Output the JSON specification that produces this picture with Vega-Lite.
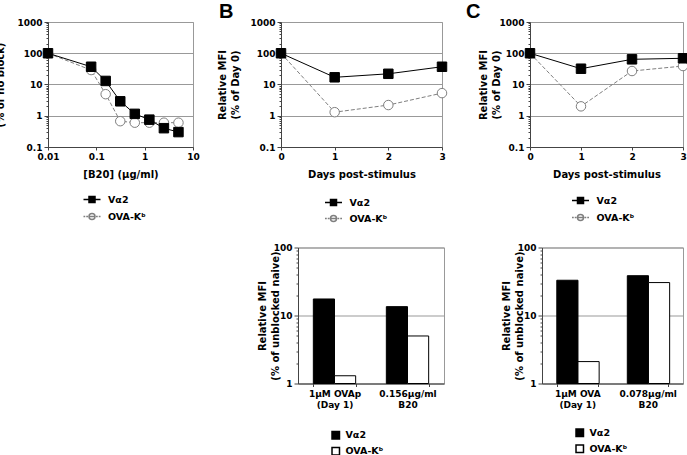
{
  "$schema": "https://vega.github.io/schema/vega-lite/v6.json",
  "background": "white",
  "padding": {"left": -19, "top": 1, "right": 0, "bottom": 0},
  "config": {
    "font": "DejaVu Sans",
    "view": {"stroke": "#999999", "strokeWidth": 1},
    "axis": {
      "labelFont": "DejaVu Sans", "labelFontSize": 9, "labelFontWeight": "bold", "labelColor": "black",
      "titleFont": "DejaVu Sans", "titleFontSize": 10, "titleFontWeight": "bold", "titleColor": "black",
      "domainColor": "#444444", "tickColor": "#444444", "gridColor": "#999999", "gridWidth": 1,
      "labelFlush": false, "labelOverlap": false, "labelPadding": 2
    },
    "legend": {"labelFont": "DejaVu Sans", "labelFontSize": 9.5, "labelFontWeight": "bold", "labelColor": "black"},
    "title": {"font": "Liberation Sans", "fontSize": 20, "fontWeight": "bold", "color": "black"}
  },
  "datasets": {
    "dose": [
      {"series": "OVA-Kᵇ", "dose": 0.01, "value": 100},
      {"series": "OVA-Kᵇ", "dose": 0.078, "value": 29},
      {"series": "OVA-Kᵇ", "dose": 0.156, "value": 4.9},
      {"series": "OVA-Kᵇ", "dose": 0.3125, "value": 0.67},
      {"series": "OVA-Kᵇ", "dose": 0.625, "value": 0.6},
      {"series": "OVA-Kᵇ", "dose": 1.25, "value": 0.6},
      {"series": "OVA-Kᵇ", "dose": 2.5, "value": 0.6},
      {"series": "OVA-Kᵇ", "dose": 5, "value": 0.6},
      {"series": "Vα2", "dose": 0.01, "value": 100},
      {"series": "Vα2", "dose": 0.078, "value": 37},
      {"series": "Vα2", "dose": 0.156, "value": 13},
      {"series": "Vα2", "dose": 0.3125, "value": 2.9},
      {"series": "Vα2", "dose": 0.625, "value": 1.15},
      {"series": "Vα2", "dose": 1.25, "value": 0.75},
      {"series": "Vα2", "dose": 2.5, "value": 0.4},
      {"series": "Vα2", "dose": 5, "value": 0.3}
    ],
    "timeB": [
      {"series": "OVA-Kᵇ", "day": 0, "value": 100},
      {"series": "OVA-Kᵇ", "day": 1, "value": 1.3},
      {"series": "OVA-Kᵇ", "day": 2, "value": 2.2},
      {"series": "OVA-Kᵇ", "day": 3, "value": 5.3},
      {"series": "Vα2", "day": 0, "value": 100},
      {"series": "Vα2", "day": 1, "value": 17},
      {"series": "Vα2", "day": 2, "value": 22},
      {"series": "Vα2", "day": 3, "value": 37}
    ],
    "timeC": [
      {"series": "OVA-Kᵇ", "day": 0, "value": 100},
      {"series": "OVA-Kᵇ", "day": 1, "value": 2},
      {"series": "OVA-Kᵇ", "day": 2, "value": 27},
      {"series": "OVA-Kᵇ", "day": 3, "value": 39},
      {"series": "Vα2", "day": 0, "value": 100},
      {"series": "Vα2", "day": 1, "value": 32},
      {"series": "Vα2", "day": 2, "value": 64},
      {"series": "Vα2", "day": 3, "value": 69}
    ],
    "barB": [
      {"group": "1µM OVAp|(Day 1)", "series": "Vα2", "value": 17.5},
      {"group": "1µM OVAp|(Day 1)", "series": "OVA-Kᵇ", "value": 1.3},
      {"group": "0.156µg/ml|B20", "series": "Vα2", "value": 13.5},
      {"group": "0.156µg/ml|B20", "series": "OVA-Kᵇ", "value": 5}
    ],
    "barC": [
      {"group": "1µM OVA|(Day 1)", "series": "Vα2", "value": 33},
      {"group": "1µM OVA|(Day 1)", "series": "OVA-Kᵇ", "value": 2.1},
      {"group": "0.078µg/ml|B20", "series": "Vα2", "value": 38.5},
      {"group": "0.078µg/ml|B20", "series": "OVA-Kᵇ", "value": 30.5}
    ]
  },
  "spacing": 17.5,
  "resolve": {
    "scale": {"fill": "independent", "stroke": "independent", "shape": "independent"},
    "legend": {"fill": "independent", "stroke": "independent", "shape": "independent"}
  },
  "vconcat": [
    {
      "spacing": 88,
      "bounds": "flush",
      "resolve": {
        "scale": {"fill": "independent", "stroke": "independent", "shape": "independent"},
        "legend": {"fill": "independent", "stroke": "independent", "shape": "independent"}
      },
      "hconcat": [
        {
          "width": 145, "height": 125,
          "data": {"name": "dose"},
          "encoding": {
            "x": {"field": "dose", "type": "quantitative",
              "scale": {"type": "log", "domain": [0.01, 10], "nice": false},
              "axis": {"values": [0.01, 0.1, 1, 10], "format": "~g", "grid": false, "tickSize": 3, "title": "[B20] (µg/ml)", "titleY": 22, "titleBaseline": "top"}},
            "y": {"field": "value", "type": "quantitative",
              "scale": {"type": "log", "domain": [0.1, 1000], "nice": false},
              "axis": {
                "values": [0.1, 0.2, 0.3, 0.4, 0.5, 0.6, 0.7, 0.8, 0.9, 1, 2, 3, 4, 5, 6, 7, 8, 9, 10, 20, 30, 40, 50, 60, 70, 80, 90, 100, 200, 300, 400, 500, 600, 700, 800, 900, 1000],
                "labelExpr": "abs(log(datum.value)/LN10 - round(log(datum.value)/LN10)) < 1e-6 ? datum.label : ''",
                "format": "~g", "grid": true,
                "gridOpacity": {"condition": {"test": "abs(log(datum.value)/LN10 - round(log(datum.value)/LN10)) < 1e-6", "value": 1}, "value": 0},
                "tickSize": {"condition": {"test": "abs(log(datum.value)/LN10 - round(log(datum.value)/LN10)) < 1e-6", "value": 4}, "value": 2},
                "title": ["Relative MFI", "(% of no block)"], "titleLineHeight": 13, "titleX": -56, "titleBaseline": "bottom"
              }}
          },
          "layer": [
            {"transform": [{"filter": "datum.series === 'OVA-Kᵇ'"}], "mark": {"type": "line", "stroke": "#7f7f7f", "strokeWidth": 1, "strokeDash": [4, 2]}},
            {"transform": [{"filter": "datum.series === 'Vα2'"}], "mark": {"type": "line", "stroke": "black", "strokeWidth": 1}},
            {"transform": [{"filter": "datum.series === 'OVA-Kᵇ'"}], "mark": {"type": "point", "shape": "circle", "size": 90, "filled": true, "fill": "white", "stroke": "#7f7f7f", "strokeWidth": 1, "opacity": 1}},
            {"transform": [{"filter": "datum.series === 'Vα2'"}], "mark": {"type": "point", "shape": "square", "size": 90, "filled": true, "fill": "black", "stroke": "black", "strokeWidth": 1, "opacity": 1}},
            {
              "transform": [{"filter": "false"}],
              "mark": {"type": "point", "filled": true, "size": 100, "strokeWidth": 1, "opacity": 1},
              "encoding": {
                "shape": {"field": "series", "type": "nominal", "scale": {"domain": ["Vα2", "OVA-Kᵇ"], "range": ["M-1.7,0H1.7M-0.6,-0.6H0.6V0.6H-0.6Z", "M-1.7,0H-1.35M-1.15,0H-0.8M0.8,0H1.15M1.35,0H1.7M-0.6,0H0.6M0.6,0A0.6,0.6 0 1,0 -0.6,0A0.6,0.6 0 1,0 0.6,0Z"]},
                  "legend": {"orient": "none", "legendX": 38, "legendY": 171.5, "title": null, "padding": 0, "symbolSize": 100, "rowPadding": 5, "labelOffset": 10}},
                "fill": {"field": "series", "type": "nominal", "scale": {"domain": ["Vα2", "OVA-Kᵇ"], "range": ["black", "white"]},
                  "legend": {"orient": "none", "legendX": 38, "legendY": 171.5, "title": null, "padding": 0, "symbolSize": 100, "rowPadding": 5, "labelOffset": 10}},
                "stroke": {"field": "series", "type": "nominal", "scale": {"domain": ["Vα2", "OVA-Kᵇ"], "range": ["black", "#7f7f7f"]},
                  "legend": {"orient": "none", "legendX": 38, "legendY": 171.5, "title": null, "padding": 0, "symbolSize": 100, "rowPadding": 5, "labelOffset": 10}}
              }
            }
          ]
        },
        {
          "width": 161, "height": 125,
          "title": {"text": "B", "anchor": "start", "frame": "group", "dx": -62, "offset": -4},
          "data": {"name": "timeB"},
          "encoding": {
            "x": {"field": "day", "type": "quantitative",
              "scale": {"domain": [0, 3], "nice": false},
              "axis": {"values": [0, 1, 2, 3], "format": "d", "grid": false, "tickSize": 3, "title": "Days post-stimulus", "titleY": 22, "titleBaseline": "top"}},
            "y": {"field": "value", "type": "quantitative",
              "scale": {"type": "log", "domain": [0.1, 1000], "nice": false},
              "axis": {
                "values": [0.1, 0.2, 0.3, 0.4, 0.5, 0.6, 0.7, 0.8, 0.9, 1, 2, 3, 4, 5, 6, 7, 8, 9, 10, 20, 30, 40, 50, 60, 70, 80, 90, 100, 200, 300, 400, 500, 600, 700, 800, 900, 1000],
                "labelExpr": "abs(log(datum.value)/LN10 - round(log(datum.value)/LN10)) < 1e-6 ? datum.label : ''",
                "format": "~g", "grid": true,
                "gridOpacity": {"condition": {"test": "abs(log(datum.value)/LN10 - round(log(datum.value)/LN10)) < 1e-6", "value": 1}, "value": 0},
                "tickSize": {"condition": {"test": "abs(log(datum.value)/LN10 - round(log(datum.value)/LN10)) < 1e-6", "value": 4}, "value": 2},
                "title": ["Relative MFI", "(% of Day 0)"], "titleLineHeight": 13, "titleX": -54, "titleBaseline": "bottom"
              }}
          },
          "layer": [
            {"transform": [{"filter": "datum.series === 'OVA-Kᵇ'"}], "mark": {"type": "line", "stroke": "#7f7f7f", "strokeWidth": 1, "strokeDash": [4, 2]}},
            {"transform": [{"filter": "datum.series === 'Vα2'"}], "mark": {"type": "line", "stroke": "black", "strokeWidth": 1}},
            {"transform": [{"filter": "datum.series === 'OVA-Kᵇ'"}], "mark": {"type": "point", "shape": "circle", "size": 90, "filled": true, "fill": "white", "stroke": "#7f7f7f", "strokeWidth": 1, "opacity": 1}},
            {"transform": [{"filter": "datum.series === 'Vα2'"}], "mark": {"type": "point", "shape": "square", "size": 90, "filled": true, "fill": "black", "stroke": "black", "strokeWidth": 1, "opacity": 1}},
            {
              "transform": [{"filter": "false"}],
              "mark": {"type": "point", "filled": true, "size": 100, "strokeWidth": 1, "opacity": 1},
              "encoding": {
                "shape": {"field": "series", "type": "nominal", "scale": {"domain": ["Vα2", "OVA-Kᵇ"], "range": ["M-1.7,0H1.7M-0.6,-0.6H0.6V0.6H-0.6Z", "M-1.7,0H-1.35M-1.15,0H-0.8M0.8,0H1.15M1.35,0H1.7M-0.6,0H0.6M0.6,0A0.6,0.6 0 1,0 -0.6,0A0.6,0.6 0 1,0 0.6,0Z"]},
                  "legend": {"orient": "none", "legendX": 46.5, "legendY": 174.5, "title": null, "padding": 0, "symbolSize": 100, "rowPadding": 4, "labelOffset": 10}},
                "fill": {"field": "series", "type": "nominal", "scale": {"domain": ["Vα2", "OVA-Kᵇ"], "range": ["black", "white"]},
                  "legend": {"orient": "none", "legendX": 46.5, "legendY": 174.5, "title": null, "padding": 0, "symbolSize": 100, "rowPadding": 4, "labelOffset": 10}},
                "stroke": {"field": "series", "type": "nominal", "scale": {"domain": ["Vα2", "OVA-Kᵇ"], "range": ["black", "#7f7f7f"]},
                  "legend": {"orient": "none", "legendX": 46.5, "legendY": 174.5, "title": null, "padding": 0, "symbolSize": 100, "rowPadding": 4, "labelOffset": 10}}
              }
            }
          ]
        },
        {
          "width": 153, "height": 125,
          "title": {"text": "C", "anchor": "start", "frame": "group", "dx": -64, "offset": -4},
          "data": {"name": "timeC"},
          "encoding": {
            "x": {"field": "day", "type": "quantitative",
              "scale": {"domain": [0, 3], "nice": false},
              "axis": {"values": [0, 1, 2, 3], "format": "d", "grid": false, "tickSize": 3, "title": "Days post-stimulus", "titleY": 22, "titleBaseline": "top"}},
            "y": {"field": "value", "type": "quantitative",
              "scale": {"type": "log", "domain": [0.1, 1000], "nice": false},
              "axis": {
                "values": [0.1, 0.2, 0.3, 0.4, 0.5, 0.6, 0.7, 0.8, 0.9, 1, 2, 3, 4, 5, 6, 7, 8, 9, 10, 20, 30, 40, 50, 60, 70, 80, 90, 100, 200, 300, 400, 500, 600, 700, 800, 900, 1000],
                "labelExpr": "abs(log(datum.value)/LN10 - round(log(datum.value)/LN10)) < 1e-6 ? datum.label : ''",
                "format": "~g", "grid": true,
                "gridOpacity": {"condition": {"test": "abs(log(datum.value)/LN10 - round(log(datum.value)/LN10)) < 1e-6", "value": 1}, "value": 0},
                "tickSize": {"condition": {"test": "abs(log(datum.value)/LN10 - round(log(datum.value)/LN10)) < 1e-6", "value": 4}, "value": 2},
                "title": ["Relative MFI", "(% of Day 0)"], "titleLineHeight": 13, "titleX": -42, "titleBaseline": "bottom"
              }}
          },
          "layer": [
            {"transform": [{"filter": "datum.series === 'OVA-Kᵇ'"}], "mark": {"type": "line", "stroke": "#7f7f7f", "strokeWidth": 1, "strokeDash": [4, 2]}},
            {"transform": [{"filter": "datum.series === 'Vα2'"}], "mark": {"type": "line", "stroke": "black", "strokeWidth": 1}},
            {"transform": [{"filter": "datum.series === 'OVA-Kᵇ'"}], "mark": {"type": "point", "shape": "circle", "size": 90, "filled": true, "fill": "white", "stroke": "#7f7f7f", "strokeWidth": 1, "opacity": 1}},
            {"transform": [{"filter": "datum.series === 'Vα2'"}], "mark": {"type": "point", "shape": "square", "size": 90, "filled": true, "fill": "black", "stroke": "black", "strokeWidth": 1, "opacity": 1}},
            {
              "transform": [{"filter": "false"}],
              "mark": {"type": "point", "filled": true, "size": 100, "strokeWidth": 1, "opacity": 1},
              "encoding": {
                "shape": {"field": "series", "type": "nominal", "scale": {"domain": ["Vα2", "OVA-Kᵇ"], "range": ["M-1.7,0H1.7M-0.6,-0.6H0.6V0.6H-0.6Z", "M-1.7,0H-1.35M-1.15,0H-0.8M0.8,0H1.15M1.35,0H1.7M-0.6,0H0.6M0.6,0A0.6,0.6 0 1,0 -0.6,0A0.6,0.6 0 1,0 0.6,0Z"]},
                  "legend": {"orient": "none", "legendX": 44.5, "legendY": 172.5, "title": null, "padding": 0, "symbolSize": 100, "rowPadding": 5, "labelOffset": 10}},
                "fill": {"field": "series", "type": "nominal", "scale": {"domain": ["Vα2", "OVA-Kᵇ"], "range": ["black", "white"]},
                  "legend": {"orient": "none", "legendX": 44.5, "legendY": 172.5, "title": null, "padding": 0, "symbolSize": 100, "rowPadding": 5, "labelOffset": 10}},
                "stroke": {"field": "series", "type": "nominal", "scale": {"domain": ["Vα2", "OVA-Kᵇ"], "range": ["black", "#7f7f7f"]},
                  "legend": {"orient": "none", "legendX": 44.5, "legendY": 172.5, "title": null, "padding": 0, "symbolSize": 100, "rowPadding": 5, "labelOffset": 10}}
              }
            }
          ]
        }
      ]
    },
    {
      "spacing": 98,
      "bounds": "flush",
      "resolve": {
        "scale": {"fill": "independent", "stroke": "independent", "shape": "independent"},
        "legend": {"fill": "independent", "stroke": "independent", "shape": "independent"}
      },
      "hconcat": [
        {
          "width": 152, "height": 136,
          "view": {"stroke": null},
          "data": {"values": [{}]},
          "mark": {"type": "point", "opacity": 0},
          "encoding": {}
        },
        {
          "width": 146, "height": 136,
          "data": {"name": "barB"},
          "mark": {"type": "bar", "stroke": "black", "strokeWidth": 1},
          "encoding": {
            "x": {"field": "group", "type": "nominal", "sort": null,
              "scale": {"paddingInner": 0.42, "paddingOuter": 0.21},
              "axis": {"title": null, "labelExpr": "split(datum.label, '|')", "labelAngle": 0, "labelLineHeight": 11, "labelFontSize": 9, "tickBand": "extent", "tickSize": 3, "labelPadding": 3}},
            "xOffset": {"field": "series", "type": "nominal", "sort": ["Vα2", "OVA-Kᵇ"], "scale": {"paddingInner": 0, "paddingOuter": 0}},
            "y": {"field": "value", "type": "quantitative",
              "scale": {"type": "log", "domain": [1, 100], "nice": false},
              "axis": {
                "values": [1, 2, 3, 4, 5, 6, 7, 8, 9, 10, 20, 30, 40, 50, 60, 70, 80, 90, 100],
                "labelExpr": "abs(log(datum.value)/LN10 - round(log(datum.value)/LN10)) < 1e-6 ? datum.label : ''",
                "format": "~g", "grid": true,
                "gridOpacity": {"condition": {"test": "abs(log(datum.value)/LN10 - round(log(datum.value)/LN10)) < 1e-6", "value": 1}, "value": 0},
                "tickSize": {"condition": {"test": "abs(log(datum.value)/LN10 - round(log(datum.value)/LN10)) < 1e-6", "value": 4}, "value": 2},
                "title": ["Relative MFI", "(% of unblocked naive)"], "titleLineHeight": 13, "titleX": -30.5, "titleBaseline": "bottom"
              }},
            "y2": {"datum": 1},
            "fill": {"field": "series", "type": "nominal", "scale": {"domain": ["Vα2", "OVA-Kᵇ"], "range": ["black", "white"]},
              "legend": {"orient": "none", "legendX": 33, "legendY": 183, "title": null, "padding": 0, "symbolType": "square", "symbolSize": 56, "rowPadding": 2, "labelOffset": 5,
                "encode": {"symbols": {"update": {"stroke": {"value": "black"}, "strokeWidth": {"value": 1}, "opacity": {"value": 1}}}}}}
          }
        },
        {
          "width": 141, "height": 136,
          "data": {"name": "barC"},
          "mark": {"type": "bar", "stroke": "black", "strokeWidth": 1},
          "encoding": {
            "x": {"field": "group", "type": "nominal", "sort": null,
              "scale": {"paddingInner": 0.42, "paddingOuter": 0.21},
              "axis": {"title": null, "labelExpr": "split(datum.label, '|')", "labelAngle": 0, "labelLineHeight": 11, "labelFontSize": 9, "tickBand": "extent", "tickSize": 3, "labelPadding": 3}},
            "xOffset": {"field": "series", "type": "nominal", "sort": ["Vα2", "OVA-Kᵇ"], "scale": {"paddingInner": 0, "paddingOuter": 0}},
            "y": {"field": "value", "type": "quantitative",
              "scale": {"type": "log", "domain": [1, 100], "nice": false},
              "axis": {
                "values": [1, 2, 3, 4, 5, 6, 7, 8, 9, 10, 20, 30, 40, 50, 60, 70, 80, 90, 100],
                "labelExpr": "abs(log(datum.value)/LN10 - round(log(datum.value)/LN10)) < 1e-6 ? datum.label : ''",
                "format": "~g", "grid": true,
                "gridOpacity": {"condition": {"test": "abs(log(datum.value)/LN10 - round(log(datum.value)/LN10)) < 1e-6", "value": 1}, "value": 0},
                "tickSize": {"condition": {"test": "abs(log(datum.value)/LN10 - round(log(datum.value)/LN10)) < 1e-6", "value": 4}, "value": 2},
                "title": ["Relative MFI", "(% of unblocked naive)"], "titleLineHeight": 13, "titleX": -30.5, "titleBaseline": "bottom"
              }},
            "y2": {"datum": 1},
            "fill": {"field": "series", "type": "nominal", "scale": {"domain": ["Vα2", "OVA-Kᵇ"], "range": ["black", "white"]},
              "legend": {"orient": "none", "legendX": 33, "legendY": 180.5, "title": null, "padding": 0, "symbolType": "square", "symbolSize": 56, "rowPadding": 2, "labelOffset": 5,
                "encode": {"symbols": {"update": {"stroke": {"value": "black"}, "strokeWidth": {"value": 1}, "opacity": {"value": 1}}}}}}
          }
        }
      ]
    }
  ]
}
